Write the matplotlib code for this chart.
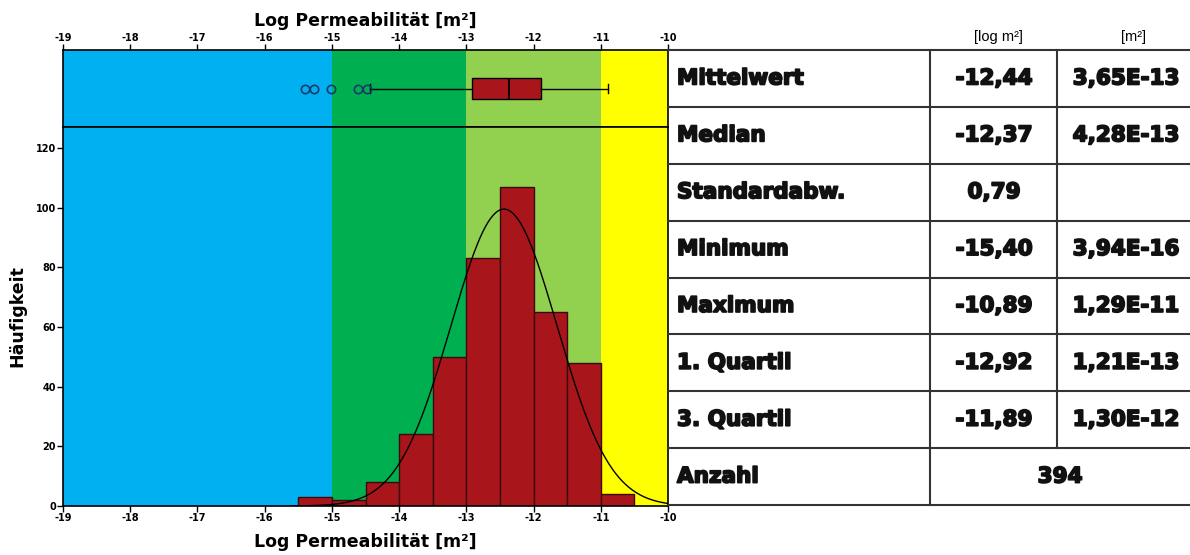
import numpy as np
import matplotlib.pyplot as plt
import matplotlib.patheffects as pe

# histogram of log permeability (bin edges and counts)
bin_edges = [-15.5, -15.0, -14.5, -14.0, -13.5, -13.0, -12.5, -12.0, -11.5, -11.0, -10.5]
counts = [3, 2, 8, 24, 50, 83, 107, 65, 48, 4]

# coloured permeability classes
zone_edges = [-19, -15, -13, -11, -10]
zone_colors = ['#00B0F0', '#00B050', '#92D050', '#FFFF00']

# box plot values
q1, med, q3 = -12.92, -12.37, -11.89
whisker_lo, whisker_hi = -14.43, -10.89
outliers = [-15.40, -15.27, -15.01, -14.61, -14.48]

# statistics for the normal curve
mean, sd, n = -12.44, 0.79, 394

# table
row_labels = ['Mittelwert', 'Median', 'Standardabw.', 'Minimum', 'Maximum',
              '1. Quartil', '3. Quartil', 'Anzahl']
log_values = ['-12,44', '-12,37', '0,79', '-15,40', '-10,89', '-12,92', '-11,89']
lin_values = ['3,65E-13', '4,28E-13', '', '3,94E-16', '1,29E-11', '1,21E-13', '1,30E-12']
count_text = '394'
headers = ['[log m²]', '[m²]']

xticks = list(range(-19, -9))
yticks = [0, 20, 40, 60, 80, 100, 120]
bar_red = '#A8161B'
W, H = 1190, 555


def fx(px):
    return px / W


def fy(py):
    return 1 - py / H


fig = plt.figure(figsize=(W / 100, H / 100), dpi=100)
tickfont = dict(family=['Liberation Sans Narrow', 'DejaVu Sans'], weight='bold', size=7)
labelfont = dict(family=['DejaVu Sans'], weight='bold', size=12.5)

ax_box = fig.add_axes([fx(63), fy(127), fx(668) - fx(63), fy(50) - fy(127)])
ax_hist = fig.add_axes([fx(63), fy(506), fx(668) - fx(63), fy(127) - fy(506)])

for ax in (ax_box, ax_hist):
    for i in range(len(zone_colors)):
        ax.axvspan(zone_edges[i], zone_edges[i + 1], color=zone_colors[i], lw=0, zorder=0)
    ax.set_xlim(-19, -10)
    for s in ax.spines.values():
        s.set_linewidth(1.2)

# box plot on top
stats = [dict(med=med, q1=q1, q3=q3, whislo=whisker_lo, whishi=whisker_hi, fliers=outliers)]
ax_box.bxp(stats, positions=[0.5], widths=0.28, vert=False, patch_artist=True,
           boxprops=dict(facecolor=bar_red, edgecolor='black', lw=1),
           medianprops=dict(color='black', lw=1.3),
           whiskerprops=dict(color='black', lw=1),
           capprops=dict(color='black', lw=1), capwidths=0.12,
           flierprops=dict(marker='o', markersize=6, markerfacecolor='none',
                           markeredgecolor='#173a6e', markeredgewidth=1.2))
ax_box.set_ylim(0, 1)
ax_box.set_yticks([])
ax_box.xaxis.tick_top()
ax_box.xaxis.set_label_position('top')
ax_box.set_xticks(xticks)
ax_box.set_xticklabels([str(t) for t in xticks], **tickfont)
ax_box.tick_params(axis='x', direction='out', length=4, width=1, pad=1)
ax_box.set_xlabel('Log Permeabilität [m²]', labelpad=5, **labelfont)

# histogram
ax_hist.bar(bin_edges[:-1], counts, width=np.diff(bin_edges), align='edge',
            color=bar_red, edgecolor='#3a0a0a', lw=1, zorder=2)
xs = np.linspace(-15.6, -10, 300)
bw = bin_edges[1] - bin_edges[0]
curve = n * bw / (sd * np.sqrt(2 * np.pi)) * np.exp(-0.5 * ((xs - mean) / sd) ** 2)
ax_hist.plot(xs, curve, color='black', lw=1, zorder=3)
ax_hist.set_ylim(0, 127)
ax_hist.set_xticks(xticks)
ax_hist.set_xticklabels([str(t) for t in xticks], **tickfont)
ax_hist.set_yticks(yticks)
ax_hist.set_yticklabels([str(t) for t in yticks], **tickfont)
ax_hist.tick_params(direction='out', length=4, width=1, pad=1)
ax_hist.set_xlabel('Log Permeabilität [m²]', labelpad=7, **labelfont)
ax_hist.set_ylabel('Häufigkeit', labelpad=7, **labelfont)

# statistics table on the right
ax_t = fig.add_axes([fx(668), fy(505), fx(1190) - fx(668), fy(50) - fy(505)])
ax_t.set_xlim(668, 1190)
ax_t.set_ylim(8, 0)
ax_t.axis('off')
line_kw = dict(color='#333333', lw=1.5, clip_on=False)
for r in range(9):
    ax_t.plot([668, 1190], [r, r], **line_kw)
ax_t.plot([930, 930], [0, 8], **line_kw)
ax_t.plot([1057, 1057], [0, 7], **line_kw)

heavy = [pe.withStroke(linewidth=1.3, foreground='#111111')]
bigfont = dict(family=['DejaVu Sans'], weight='bold', size=15.5, color='#111111',
               path_effects=heavy)
for i, lab in enumerate(row_labels):
    ax_t.text(677, i + 0.5, lab, ha='left', va='center', **bigfont)
for i, v in enumerate(log_values):
    ax_t.text(994, i + 0.5, v, ha='center', va='center', **bigfont)
for i, v in enumerate(lin_values):
    ax_t.text(1126, i + 0.5, v, ha='center', va='center', **bigfont)
ax_t.text(1060, 7.5, count_text, ha='center', va='center', **bigfont)
ax_t.text(998, -0.22, headers[0], ha='center', va='center', size=10.5,
          family=['Liberation Sans', 'DejaVu Sans'], clip_on=False)
ax_t.text(1134, -0.22, headers[1], ha='center', va='center', size=10.5,
          family=['Liberation Sans', 'DejaVu Sans'], clip_on=False)

fig.savefig('out.png', dpi=100)
